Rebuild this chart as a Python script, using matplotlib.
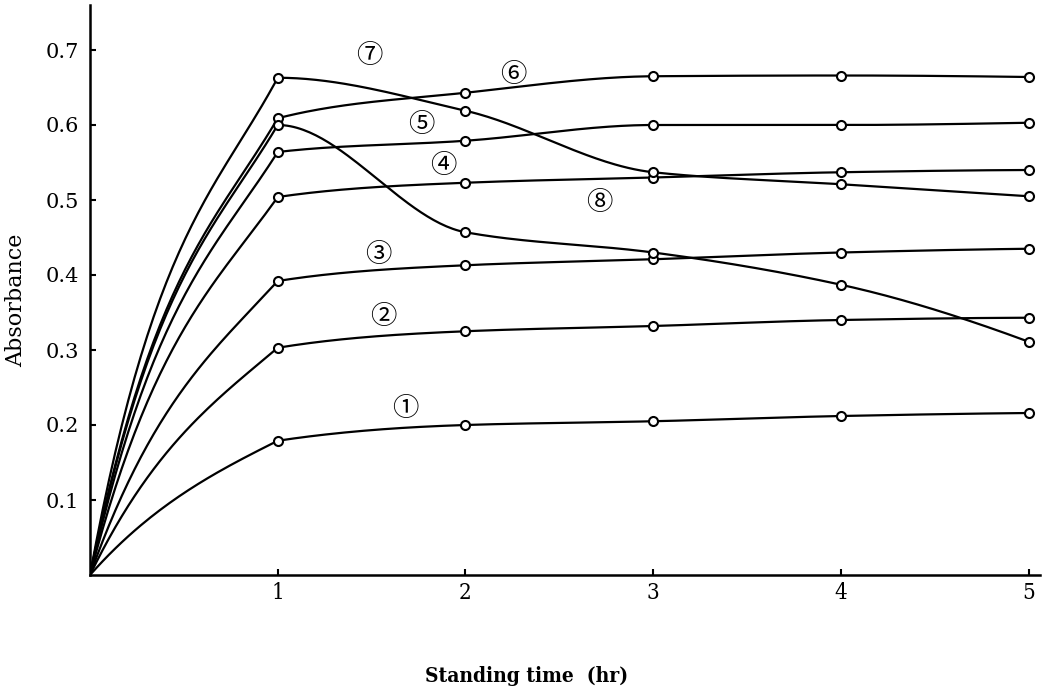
import numpy as np
import matplotlib
matplotlib.use("Agg")
import matplotlib.pyplot as plt

# standing time (hr)
hours = [0, 1, 2, 3, 4, 5]

# absorbance, curves 1..8
curve1 = [0, 0.179, 0.200, 0.205, 0.212, 0.216]
curve2 = [0, 0.303, 0.325, 0.332, 0.340, 0.343]
curve3 = [0, 0.392, 0.413, 0.421, 0.430, 0.435]
curve4 = [0, 0.504, 0.523, 0.530, 0.537, 0.540]
curve5 = [0, 0.564, 0.579, 0.600, 0.600, 0.603]
curve6 = [0, 0.609, 0.643, 0.665, 0.666, 0.664]
curve7 = [0, 0.663, 0.619, 0.537, 0.521, 0.505]
curve8 = [0, 0.600, 0.457, 0.430, 0.387, 0.311]

curve_names = ["①", "②", "③", "④", "⑤", "⑥", "⑦", "⑧"]
# where each curve number sits (hr, absorbance)
name_x = [1.68, 1.56, 1.535, 1.88, 1.765, 2.255, 1.486, 2.71]
name_y = [0.222, 0.345, 0.428, 0.546, 0.601, 0.668, 0.693, 0.497]

y_ticks = [0.1, 0.2, 0.3, 0.4, 0.5, 0.6, 0.7]
x_ticks = [1, 2, 3, 4, 5]


def smooth_line(x, y, n=60):
    # monotone cubic (Fritsch-Carlson) slopes, only used to draw the line.
    # the first leg (0 -> 1 hr) is drawn as a bowed curve with a knee at 1 hr,
    # like the hand drawn original
    x = np.asarray(x, float)
    y = np.asarray(y, float)
    h = np.diff(x)
    d = np.diff(y) / h
    m = np.zeros(len(x))
    for k in range(1, len(x) - 1):
        if d[k - 1] * d[k] <= 0:
            m[k] = 0
        else:
            w1 = 2 * h[k] + h[k - 1]
            w2 = h[k] + 2 * h[k - 1]
            m[k] = (w1 + w2) / (w1 / d[k - 1] + w2 / d[k])
    s = ((2 * h[-1] + h[-2]) * d[-1] - h[-1] * d[-2]) / (h[-1] + h[-2])
    if np.sign(s) != np.sign(d[-1]):
        s = 0
    m[-1] = s

    xs_all, ys_all = [], []
    t = np.linspace(0, 1, n)
    h00 = 2 * t**3 - 3 * t**2 + 1
    h10 = t**3 - 2 * t**2 + t
    h01 = -2 * t**3 + 3 * t**2
    h11 = t**3 - t**2
    for i in range(len(x) - 1):
        m0, m1 = m[i], m[i + 1]
        if i == 0:
            m0 = d[0] * (1.4 + d[0])
            m1 = d[0] * 0.7
        xs_all.append(x[i] + t * h[i])
        ys_all.append(h00 * y[i] + h10 * h[i] * m0 + h01 * y[i + 1] + h11 * h[i] * m1)
    return np.concatenate(xs_all), np.concatenate(ys_all)


fig = plt.figure(figsize=(10.54, 6.94), dpi=100)
ax = fig.add_axes([90 / 1054, 1 - 575 / 694, 950 / 1054, 570 / 694])

all_curves = [curve1, curve2, curve3, curve4, curve5, curve6, curve7, curve8]
for c in all_curves:
    xs, ys = smooth_line(hours, c)
    ax.plot(xs, ys, color="black", lw=1.6, zorder=2)
    ax.plot(hours[1:], c[1:], "o", ms=6.5, mfc="white", mec="black", mew=1.5, zorder=3)

for name, nx, ny in zip(curve_names, name_x, name_y):
    ax.text(nx, ny, name, fontsize=19, ha="center", va="center",
            family=["Noto Sans CJK JP", "DejaVu Sans"], zorder=4)

ax.set_xlim(0, 5.06)
ax.set_ylim(0, 0.76)
ax.set_xticks(x_ticks)
ax.set_xticklabels([str(v) for v in x_ticks], family="DejaVu Serif", fontsize=16,
                   fontstretch="condensed")
ax.set_yticks(y_ticks)
ax.set_yticklabels([f"{v:.1f}" for v in y_ticks], family="DejaVu Serif", fontsize=15)
ax.tick_params(axis="both", direction="in", length=4, width=1.5, color="black")
ax.tick_params(axis="x", pad=5)
ax.tick_params(axis="y", pad=8)

for s in ["top", "right"]:
    ax.spines[s].set_visible(False)
for s in ["left", "bottom"]:
    ax.spines[s].set_linewidth(1.8)

ax.set_xlabel("Standing time  (hr)", family="DejaVu Serif", fontsize=15,
              fontweight="bold", fontstretch="condensed")
ax.xaxis.set_label_coords(0.46, -0.16)
ax.set_ylabel("Absorbance", family="DejaVu Serif", fontsize=16)
ax.yaxis.set_label_coords(-0.066, 0.482)

fig.savefig("out.png", dpi=100)
